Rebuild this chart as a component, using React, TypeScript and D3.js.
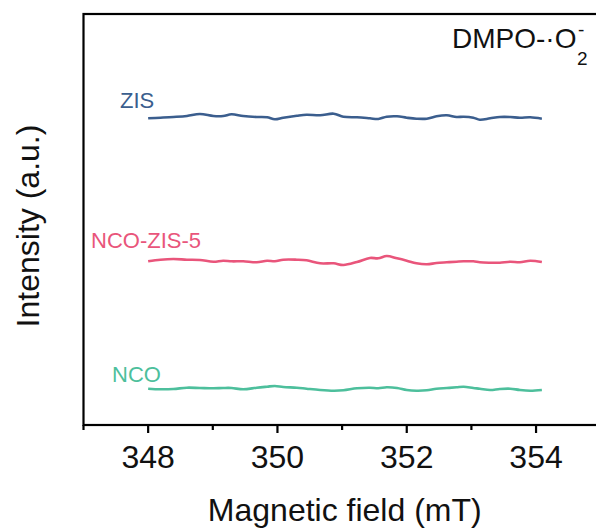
import React from "react";
import * as d3 from "d3";

const fields = [348.0, 348.19, 348.39, 348.6, 348.8, 349.01, 349.16, 349.29, 349.47, 349.68, 349.84, 349.96, 350.09, 350.3, 350.45, 350.66, 350.87, 351.02, 351.23, 351.43, 351.56, 351.69, 351.85, 352.0, 352.15, 352.31, 352.46, 352.62, 352.77, 352.88, 353.03, 353.13, 353.29, 353.44, 353.6, 353.75, 353.91, 354.09];

const zisValues = [306.7, 307.3, 308.0, 309.0, 311.0, 309.0, 309.0, 310.7, 309.0, 308.0, 307.7, 305.7, 307.3, 309.3, 310.3, 309.7, 311.3, 308.3, 307.7, 306.7, 306.0, 308.3, 308.7, 307.3, 306.3, 306.3, 308.7, 309.7, 308.0, 308.3, 307.3, 305.3, 306.7, 308.0, 308.0, 307.3, 307.7, 306.3];

const ncoZis5Values = [163.7, 165.3, 166.0, 165.3, 165.0, 163.3, 164.3, 163.7, 163.7, 162.7, 164.3, 163.7, 165.3, 165.3, 164.7, 161.7, 161.7, 160.0, 163.0, 167.0, 166.7, 169.0, 166.7, 164.3, 161.7, 160.7, 162.0, 162.7, 163.3, 163.7, 163.7, 162.7, 162.3, 162.3, 163.3, 162.7, 164.3, 163.0];

const ncoValues = [36.3, 35.7, 36.0, 37.3, 37.0, 36.7, 37.0, 37.0, 35.7, 37.3, 38.3, 39.0, 38.0, 37.3, 36.3, 35.0, 34.3, 34.7, 36.7, 37.3, 36.7, 37.7, 37.0, 35.0, 34.3, 34.7, 36.3, 37.0, 37.7, 38.3, 37.0, 36.3, 35.0, 36.0, 36.3, 35.0, 34.3, 35.0];

const seriesNames = ["ZIS", "NCO-ZIS-5", "NCO"];
const seriesColors = ["#3b5e8e", "#e9557b", "#4dbf9c"];
const majorTicks = [348, 350, 352, 354];
const minorTicks = [347, 349, 351, 353, 355];

const W = 596;
const H = 529;
const left = 83.5;
const top = 14;
const bottom = 425;

export default function App() {
  const x = d3.scaleLinear().domain([347, 355]).range([left, 600.7]);
  const y = d3.scaleLinear().domain([0, 411]).range([bottom, top]);
  const line = d3
    .line<[number, number]>()
    .x((d) => x(d[0]))
    .y((d) => y(d[1]))
    .curve(d3.curveCatmullRom);

  const all = [zisValues, ncoZis5Values, ncoValues];
  const labelPos = [
    { x: 120, y: 108 },
    { x: 91, y: 248 },
    { x: 112, y: 382 },
  ];
  const font = "'Liberation Sans', Arial, Helvetica, sans-serif";

  return (
    <svg
      width={W}
      height={H}
      style={{ position: "absolute", left: 0, top: 0, background: "#fff" }}
      fontFamily={font}
    >
      {all.map((vals, i) => (
        <path
          key={seriesNames[i]}
          d={line(fields.map((f, j) => [f, vals[j]] as [number, number])) || ""}
          fill="none"
          stroke={seriesColors[i]}
          strokeWidth={2.6}
          strokeLinejoin="round"
        />
      ))}
      {seriesNames.map((n, i) => (
        <text key={n} x={labelPos[i].x} y={labelPos[i].y} fontSize={22} fill={seriesColors[i]}>
          {n}
        </text>
      ))}
      {/* frame */}
      <rect x={left} y={top} width={640 - left} height={bottom - top} fill="none" stroke="#000" strokeWidth={2.2} />
      {majorTicks.map((t) => (
        <g key={t}>
          <line x1={x(t)} x2={x(t)} y1={bottom} y2={bottom + 8} stroke="#000" strokeWidth={2.2} />
          <text x={x(t)} y={468} fontSize={32} textAnchor="middle" fill="#111">
            {t}
          </text>
        </g>
      ))}
      {minorTicks.map((t) => (
        <line key={t} x1={x(t)} x2={x(t)} y1={bottom} y2={bottom + 5} stroke="#000" strokeWidth={2.2} />
      ))}
      <text x={(left + 600) / 2 + 3} y={521} fontSize={32} textAnchor="middle" fill="#111">
        Magnetic field (mT)
      </text>
      <text
        transform={`translate(39,226) rotate(-90)`}
        fontSize={32}
        textAnchor="middle"
        fill="#111"
      >
        Intensity (a.u.)
      </text>
      <text x={452} y={48} fontSize={28} fill="#111">
        DMPO-·O
      </text>
      <text x={577} y={65} fontSize={19} fill="#111">
        2
      </text>
      <text x={578} y={36} fontSize={19} fill="#111">
        -
      </text>
    </svg>
  );
}
